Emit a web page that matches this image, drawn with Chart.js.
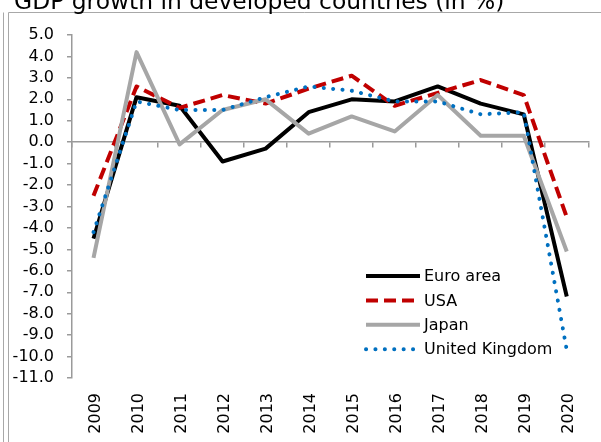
<!DOCTYPE html>
<html lang="en">
<head>
  <meta charset="UTF-8" />
  <title>GDP growth in developed countries</title>
  <script src="https://cdn.jsdelivr.net/npm/chart.js@4"></script>
  <style>
    html, body { margin: 0; padding: 0; background: #fff; }
  </style>
</head>
<body>

<canvas id="gdpChart" width="601" height="442"></canvas>

<script>
  // Werte
  const years = ['2009', '2010', '2011', '2012', '2013', '2014', '2015', '2016', '2017', '2018', '2019', '2020'];
  const euroArea = [-4.5, 2.1, 1.7, -0.9, -0.3, 1.4, 2.0, 1.9, 2.6, 1.8, 1.3, -7.2];
  const usa      = [-2.5, 2.6, 1.6, 2.2, 1.8, 2.5, 3.1, 1.7, 2.3, 2.9, 2.2, -3.5];
  const japan    = [-5.4, 4.2, -0.1, 1.5, 2.0, 0.4, 1.2, 0.5, 2.2, 0.3, 0.3, -5.1];
  const uk       = [-4.2, 1.9, 1.5, 1.5, 2.1, 2.6, 2.4, 1.9, 1.9, 1.3, 1.4, -9.7];
  const yMin = -11, yMax = 5, yStep = 1;
  const titleText = 'GDP growth in developed countries (in %)';

  Chart.defaults.font.family = '"DejaVu Sans", Verdana, sans-serif';
  Chart.defaults.color = '#000';

  const axisGray = '#9a9a9a';

  // Rahmen + Titel (Titel oben abgeschnitten wie im Original)
  const framePlugin = {
    id: 'frame',
    beforeDraw(chart) {
      const ctx = chart.ctx;
      ctx.save();
      ctx.strokeStyle = '#a8a8a8';
      ctx.lineWidth = 1;
      ctx.beginPath();
      ctx.moveTo(3.5, 12.5); ctx.lineTo(3.5, chart.height);
      ctx.moveTo(8.5, chart.height); ctx.lineTo(8.5, 12.5); ctx.lineTo(chart.width, 12.5);
      ctx.stroke();
      ctx.fillStyle = '#000';
      ctx.font = '23.4px "DejaVu Sans"';
      ctx.textBaseline = 'alphabetic';
      ctx.fillText(titleText, 14, 9);
      ctx.restore();
    }
  };

  // Legende im Plotbereich
  const legendPlugin = {
    id: 'lineLegend',
    afterDraw(chart) {
      const ctx = chart.ctx;
      chart.data.datasets.forEach((ds, i) => {
        const y = 276 + i * 24.4;
        ctx.save();
        ctx.strokeStyle = ds.borderColor;
        ctx.lineWidth = ds.borderWidth;
        ctx.setLineDash(ds.borderDash || []);
        ctx.lineCap = ds.borderCapStyle || 'butt';
        ctx.beginPath();
        ctx.moveTo(366, y);
        ctx.lineTo(420, y);
        ctx.stroke();
        ctx.fillStyle = '#000';
        ctx.font = '16px "DejaVu Sans"';
        ctx.textBaseline = 'middle';
        ctx.fillText(ds.label, 424, y + 1);
        ctx.restore();
      });
    }
  };

  new Chart(document.getElementById('gdpChart'), {
    type: 'line',
    data: {
      labels: years,
      datasets: [
        { label: 'Euro area', data: euroArea, borderColor: '#000000', borderWidth: 4, order: 4 },
        { label: 'USA', data: usa, borderColor: '#c00000', borderWidth: 4, borderDash: [12, 6], order: 3 },
        { label: 'Japan', data: japan, borderColor: '#a6a6a6', borderWidth: 4, order: 2 },
        { label: 'United Kingdom', data: uk, borderColor: '#0070c0', borderWidth: 4, borderDash: [0.1, 9.3], borderCapStyle: 'round', order: 1 }
      ]
    },
    options: {
      responsive: false,
      animation: false,
      devicePixelRatio: 1,
      layout: { padding: { left: 12, top: 35, right: 1, bottom: 0 } },
      elements: {
        point: { radius: 0, hoverRadius: 0 },
        line: { tension: 0, borderJoinStyle: 'round', fill: false }
      },
      plugins: {
        legend: { display: false },
        tooltip: { enabled: false }
      },
      scales: {
        x: {
          type: 'category',
          position: 'bottom',
          offset: true,
          grid: { display: false, drawTicks: false },
          border: { display: false },
          ticks: { minRotation: 90, maxRotation: 90, autoSkip: false, padding: 15, labelOffset: 2, font: { size: 16 } },
          afterFit: s => { s.height = 64; }
        },
        x0: {
          type: 'category',
          position: { y: 0 },
          offset: true,
          grid: { offset: true, drawOnChartArea: false, drawTicks: true, tickLength: 5, color: axisGray, lineWidth: 1.5 },
          border: { display: true, color: axisGray, width: 1.5 },
          ticks: { display: false }
        },
        y: {
          min: yMin,
          max: yMax,
          ticks: { stepSize: yStep, autoSkip: false, padding: 13, font: { size: 16 }, callback: v => Number(v).toFixed(1) },
          grid: { drawOnChartArea: false, drawTicks: true, tickLength: 5, color: axisGray, lineWidth: 1.5 },
          border: { color: axisGray, width: 1.5 },
          afterFit: s => { s.width = 60; }
        }
      }
    },
    plugins: [framePlugin, legendPlugin]
  });
</script>

</body>
</html>
